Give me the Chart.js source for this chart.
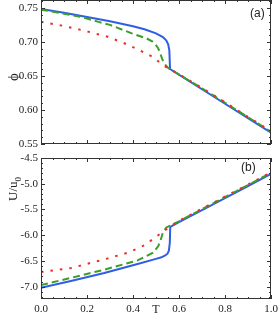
<!DOCTYPE html>
<html>
<head>
<meta charset="utf-8">
<script src="https://cdn.jsdelivr.net/npm/chart.js@4.4.0/dist/chart.umd.min.js"></script>
<style>
  body { margin: 0; background: #fff; }
  #wrap { position: relative; width: 278px; height: 319px; overflow: hidden; }
  canvas { position: absolute; left: 0; }
  #topChart { top: 0; }
  #bottomChart { top: 150px; }
  .tag { position: absolute; font-family: "Liberation Sans", sans-serif; font-size: 12px; color: #222; }
  .ytitle { position: absolute; width: 60px; height: 16px; line-height: 16px; text-align: center;
            font-family: "Liberation Serif", serif; font-size: 13px; color: #222; transform: rotate(-90deg); }
</style>
</head>
<body>
<div id="wrap">
  <canvas id="topChart" width="278" height="150"></canvas>
  <canvas id="bottomChart" width="278" height="169"></canvas>
  <div class="tag" style="left:250px;top:6px">(a)</div>
  <div class="tag" style="left:241px;top:160px">(b)</div>
  <div class="ytitle" style="left:-17px;top:69px;font-size:15px">ϕ</div>
  <div class="ytitle" style="left:-17px;top:181px">U/u<sub style="font-size:9px">0</sub></div>
</div>
<script>
// panel (a): phi vs T
const phiBlueT = [0, 0.1, 0.2, 0.3, 0.4, 0.45, 0.5, 0.53, 0.545, 0.553, 0.558, 0.561, 0.6, 0.7, 0.8, 0.9, 1.0];
const phiBlue  = [0.749, 0.7435, 0.737, 0.731, 0.7235, 0.719, 0.713, 0.7075, 0.7025, 0.697, 0.688, 0.6605, 0.652, 0.6307, 0.6093, 0.588, 0.5667];
const phiGreenT = [0, 0.1, 0.17, 0.25, 0.3, 0.395, 0.46, 0.485, 0.497, 0.508, 0.516, 0.527, 0.541, 0.555, 0.6, 0.7, 0.8, 0.9, 1.0];
const phiGreen  = [0.748, 0.742, 0.7375, 0.730, 0.7255, 0.713, 0.7055, 0.701, 0.697, 0.692, 0.686, 0.675, 0.6665, 0.6615, 0.6525, 0.632, 0.6108, 0.5895, 0.568];
const phiRedT = [0, 0.094, 0.188, 0.29, 0.362, 0.42, 0.485, 0.52, 0.541, 0.553, 0.6, 0.7, 0.8, 0.9, 1.0];
const phiRed  = [0.730, 0.7243, 0.717, 0.708, 0.6985, 0.6895, 0.6785, 0.669, 0.664, 0.6615, 0.653, 0.6325, 0.6113, 0.590, 0.5688];

// panel (b): U/u0 vs T
const uBlueT = [0, 0.13, 0.275, 0.42, 0.5, 0.524, 0.54, 0.55, 0.556, 0.56, 0.562, 0.6, 0.7, 0.8, 0.9, 1.0];
const uBlue  = [-7.02, -6.89, -6.735, -6.56, -6.46, -6.43, -6.395, -6.36, -6.3, -6.15, -5.84, -5.746, -5.512, -5.278, -5.044, -4.81];
const uGreenT = [0, 0.13, 0.275, 0.42, 0.487, 0.51, 0.52, 0.53, 0.545, 0.6, 0.7, 0.8, 0.9, 1.0];
const uGreen  = [-6.97, -6.83, -6.67, -6.49, -6.34, -6.21, -6.1, -5.945, -5.85, -5.73, -5.495, -5.26, -5.025, -4.79];
const uRedT = [0, 0.13, 0.275, 0.378, 0.45, 0.51, 0.537, 0.552, 0.6, 0.7, 0.8, 0.9, 1.0];
const uRed  = [-6.715, -6.64, -6.47, -6.34, -6.196, -6.0, -5.91, -5.86, -5.72, -5.485, -5.25, -5.015, -4.78];

// axes
const xTicks = [0, 0.2, 0.4, 0.6, 0.8, 1.0];
const phiTicks = [0.55, 0.60, 0.65, 0.70, 0.75];
const uTicks = [-7.0, -6.5, -6.0, -5.5, -5.0, -4.5];

const blue = "#2f5de6";
const green = "#3c9e28";
const red = "#e8302a";

const pts = (xs, ys) => xs.map((x, i) => ({ x: x, y: ys[i] }));

function line(xs, ys, color, dash) {
  return {
    data: pts(xs, ys),
    borderColor: color,
    borderWidth: 2,
    borderDash: dash,
    pointRadius: 0,
    showLine: true,
    fill: false,
    tension: 0,
  };
}

// frame and inward tick marks on all four sides
const frameTicks = {
  id: "frameTicks",
  afterDatasetsDraw(chart, args, opts) {
    const { ctx, chartArea: a, scales } = chart;
    ctx.save();
    ctx.strokeStyle = "#333";
    ctx.lineWidth = 1;
    ctx.strokeRect(a.left + 0.5, a.top + 0.5, a.width - 1, a.height - 1);
    ctx.beginPath();
    const n = Math.round((opts.xMax - opts.xMin) / opts.xMinor);
    for (let i = 0; i <= n; i++) {
      const v = opts.xMin + i * opts.xMinor;
      const major = Math.abs(v / opts.xMajor - Math.round(v / opts.xMajor)) < 1e-6;
      const len = major ? 4 : 2;
      const px = Math.round(scales.x.getPixelForValue(v)) + 0.5;
      ctx.moveTo(px, a.bottom); ctx.lineTo(px, a.bottom - len);
      ctx.moveTo(px, a.top); ctx.lineTo(px, a.top + len);
    }
    const m = Math.round((opts.yMax - opts.yMin) / opts.yMinor);
    for (let i = 0; i <= m; i++) {
      const v = opts.yMin + i * opts.yMinor;
      const major = Math.abs(v / opts.yMajor - Math.round(v / opts.yMajor)) < 1e-6;
      const len = major ? 4 : 2;
      const py = Math.round(scales.y.getPixelForValue(v)) + 0.5;
      if (py < a.top || py > a.bottom + 1) continue;
      ctx.moveTo(a.left, py); ctx.lineTo(a.left + len, py);
      ctx.moveTo(a.right, py); ctx.lineTo(a.right - len, py);
    }
    ctx.stroke();
    ctx.restore();
  },
};

const tickFont = { family: "Liberation Serif", size: 11 };

// Top Chart: phi
new Chart(document.getElementById("topChart"), {
  type: "scatter",
  data: {
    datasets: [
      line(phiRedT, phiRed, red, [2.5, 7]),
      line(phiGreenT, phiGreen, green, [7, 4]),
      line(phiBlueT, phiBlue, blue, []),
    ],
  },
  options: {
    responsive: false,
    animation: false,
    layout: { padding: { top: 0, right: 7, bottom: 6, left: 0 } },
    plugins: {
      legend: { display: false },
      tooltip: { enabled: false },
      frameTicks: { xMin: 0, xMax: 1, xMinor: 0.05, xMajor: 0.2, yMin: 0.55, yMax: 0.76, yMinor: 0.01, yMajor: 0.05 },
    },
    scales: {
      x: {
        type: "linear", min: 0, max: 1,
        grid: { display: false },
        border: { display: false },
        ticks: { display: false },
        afterFit: (s) => { s.height = 0; s.paddingLeft = 0; s.paddingRight = 0; },
      },
      y: {
        min: 0.55, max: 0.7622,
        grid: { display: false, drawTicks: false },
        border: { display: false },
        afterBuildTicks: (s) => { s.ticks = phiTicks.map((v) => ({ value: v })); },
        ticks: { font: tickFont, color: "#222", padding: 3, callback: (v) => Number(v).toFixed(2) },
        afterFit: (s) => { s.width = 41; s.paddingTop = 0; s.paddingBottom = 0; },
      },
    },
  },
  plugins: [frameTicks],
});

// Bottom Chart: U/u0
new Chart(document.getElementById("bottomChart"), {
  type: "scatter",
  data: {
    datasets: [
      line(uRedT, uRed, red, [2.5, 7]),
      line(uGreenT, uGreen, green, [7, 4]),
      line(uBlueT, uBlue, blue, []),
    ],
  },
  options: {
    responsive: false,
    animation: false,
    layout: { padding: { top: 8, right: 7, bottom: 0, left: 0 } },
    plugins: {
      legend: { display: false },
      tooltip: { enabled: false },
      frameTicks: { xMin: 0, xMax: 1, xMinor: 0.05, xMajor: 0.2, yMin: -7.2, yMax: -4.5, yMinor: 0.1, yMajor: 0.5 },
    },
    scales: {
      x: {
        type: "linear", min: 0, max: 1,
        grid: { display: false, drawTicks: false },
        border: { display: false },
        afterBuildTicks: (s) => { s.ticks = xTicks.map((v) => ({ value: v })); },
        ticks: { font: tickFont, color: "#222", padding: 4, maxRotation: 0, callback: (v) => Number(v).toFixed(1) },
        title: { display: true, text: "T", font: { family: "Liberation Serif", size: 12 }, color: "#222", padding: { top: 0, bottom: 2 } },
        afterFit: (s) => { s.height = 20; s.paddingLeft = 0; s.paddingRight = 0; },
      },
      y: {
        min: -7.24, max: -4.5,
        grid: { display: false, drawTicks: false },
        border: { display: false },
        afterBuildTicks: (s) => { s.ticks = uTicks.map((v) => ({ value: v })); },
        ticks: { font: tickFont, color: "#222", padding: 3, callback: (v) => Number(v).toFixed(1) },
        afterFit: (s) => { s.width = 41; s.paddingTop = 0; s.paddingBottom = 0; },
      },
    },
  },
  plugins: [frameTicks],
});
</script>
</body>
</html>
